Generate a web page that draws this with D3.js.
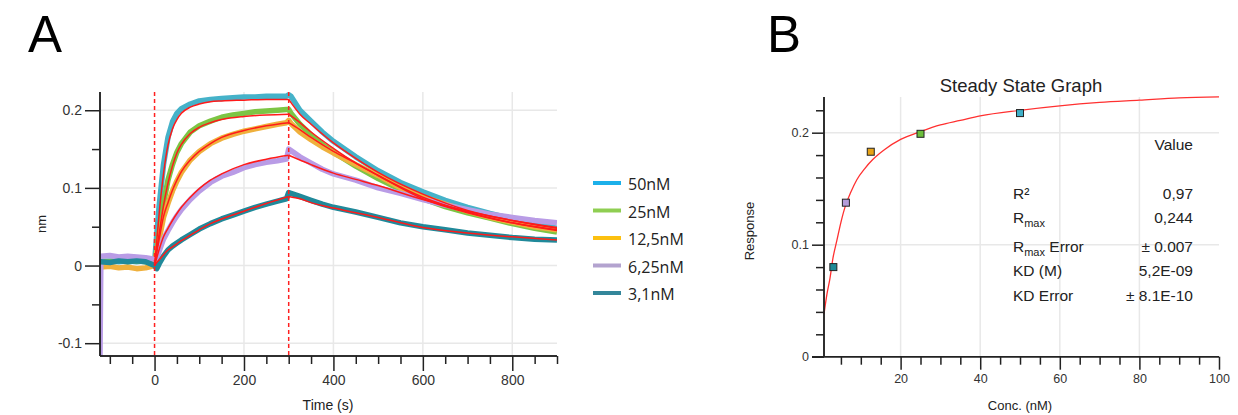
<!DOCTYPE html>
<html>
<head>
<meta charset="utf-8">
<script src="https://cdnjs.cloudflare.com/ajax/libs/d3/7.8.5/d3.min.js"></script>
<style>
body { margin: 0; background: #fff; }
svg text { font-family: "Liberation Sans", Arial, sans-serif; }
</style>
</head>
<body>
<svg id="figure"></svg>
<script>
// kinetics (panel A)
const seriesNames = ["50nM", "25nM", "12,5nM", "6,25nM", "3,1nM"];
const dataColors = ["#45b2c9", "#7cc544", "#efb03c", "#b99ce6", "#20899a"];
const legendColors = ["#1cb0ea", "#8fce52", "#fcc010", "#b3a3cf", "#33869a"];

const measTimes = [-122, -120, -100, -80, -60, -40, -20, 0, 5, 10, 20, 30, 40, 50, 60,
    80, 100, 125, 150, 175, 200, 225, 250, 275, 295, 300, 305, 325, 350, 375, 400,
    450, 500, 550, 600, 650, 700, 750, 800, 850, 900];
const meas50 = [0.005, 0.005, 0.006, 0.005, 0.006, 0.005, 0.006, 0.003, 0.04, 0.075, 0.13, 0.165, 0.185, 0.196, 0.202,
    0.208, 0.212, 0.214, 0.215, 0.216, 0.217, 0.217, 0.218, 0.218, 0.218, 0.22, 0.218, 0.2, 0.186, 0.172, 0.16,
    0.14, 0.122, 0.107, 0.095, 0.084, 0.075, 0.067, 0.06, 0.054, 0.048];
const meas25 = [0.006, 0.006, 0.005, 0.007, 0.005, 0.006, 0.005, 0.002, 0.02, 0.042, 0.08, 0.11, 0.13, 0.146, 0.157,
    0.172, 0.18, 0.186, 0.191, 0.194, 0.196, 0.198, 0.199, 0.2, 0.201, 0.201, 0.196, 0.182, 0.168, 0.156, 0.146,
    0.128, 0.112, 0.098, 0.086, 0.076, 0.068, 0.061, 0.054, 0.048, 0.043];
const meas125 = [-0.002, -0.002, -0.001, -0.003, -0.002, -0.004, -0.003, 0.0, 0.017, 0.033, 0.062, 0.08, 0.096, 0.109, 0.12,
    0.136, 0.147, 0.157, 0.164, 0.169, 0.173, 0.176, 0.179, 0.182, 0.184, 0.187, 0.183, 0.172, 0.162, 0.153, 0.145,
    0.13, 0.116, 0.1, 0.088, 0.079, 0.07, 0.062, 0.056, 0.05, 0.046];
const meas625 = [-0.1165, 0.012, 0.013, 0.011, 0.012, 0.011, 0.01, 0.008, 0.01, 0.018, 0.034, 0.045, 0.055, 0.064, 0.072,
    0.085, 0.096, 0.107, 0.115, 0.12, 0.126, 0.13, 0.133, 0.135, 0.137, 0.15, 0.148, 0.14, 0.132, 0.124, 0.118,
    0.11, 0.1, 0.093, 0.085, 0.078, 0.072, 0.066, 0.062, 0.058, 0.055];
const meas31 = [0.005, 0.005, 0.004, 0.006, 0.005, 0.006, 0.005, 0.0, -0.004, 0.002, 0.012, 0.02, 0.025, 0.029, 0.033,
    0.04, 0.047, 0.054, 0.06, 0.065, 0.07, 0.075, 0.079, 0.083, 0.086, 0.094, 0.093, 0.089, 0.084, 0.079, 0.075,
    0.069, 0.062, 0.055, 0.05, 0.046, 0.042, 0.039, 0.036, 0.034, 0.033];

const fitTimes = [0, 5, 10, 20, 30, 40, 50, 60, 80, 100, 125, 150, 200, 250, 300,
    325, 350, 400, 450, 500, 600, 700, 800, 900];
const fit50 = [0, 0.032, 0.065, 0.118, 0.155, 0.176, 0.188, 0.196, 0.204, 0.208, 0.211, 0.212, 0.213, 0.214, 0.214,
    0.195, 0.182, 0.158, 0.138, 0.12, 0.092, 0.071, 0.058, 0.048];
const fit25 = [0, 0.02, 0.04, 0.077, 0.106, 0.128, 0.145, 0.156, 0.17, 0.178, 0.184, 0.188, 0.192, 0.194, 0.195,
    0.184, 0.172, 0.151, 0.132, 0.116, 0.088, 0.069, 0.055, 0.045];
const fit125 = [0, 0.017, 0.033, 0.063, 0.081, 0.097, 0.11, 0.121, 0.136, 0.147, 0.157, 0.165, 0.174, 0.18, 0.184,
    0.175, 0.165, 0.147, 0.132, 0.116, 0.086, 0.068, 0.055, 0.046];
const fit625 = [0, 0.01, 0.02, 0.037, 0.048, 0.058, 0.067, 0.075, 0.088, 0.099, 0.11, 0.118, 0.13, 0.137, 0.142,
    0.136, 0.13, 0.119, 0.111, 0.103, 0.085, 0.07, 0.058, 0.049];
const fit31 = [0, 0.004, 0.007, 0.014, 0.02, 0.024, 0.028, 0.032, 0.039, 0.046, 0.054, 0.06, 0.07, 0.08, 0.089,
    0.086, 0.081, 0.074, 0.068, 0.062, 0.049, 0.042, 0.037, 0.033];
const injectionTimes = [0, 300];

// steady state (panel B)
const ssConc = [3.1, 6.25, 12.5, 25, 50];
const ssResponse = [0.080, 0.1375, 0.183, 0.199, 0.2175];
const ssColors = ["#1f8a96", "#b39ddb", "#e8a317", "#6cbf3c", "#3fb0c8"];
const ssFitConc = [0.75, 1.5, 2.25, 3, 4, 5, 6.25, 7.5, 9, 11, 13, 16, 20, 25, 30, 35, 40, 50, 60, 70, 80, 90, 100];
const ssFitResponse = [0.038, 0.056, 0.07, 0.088, 0.104, 0.12, 0.136, 0.147, 0.158, 0.168, 0.176, 0.185, 0.194,
    0.201, 0.207, 0.211, 0.215, 0.220, 0.224, 0.227, 0.229, 0.231, 0.232];
const tableValues = ["0,97", "0,244", "\u00b1 0.007", "5,2E-09", "\u00b1 8.1E-10"];

class Figure {
    constructor() {
        this.width = 1238;
        this.height = 415;
        this.svg = d3.select("#figure")
            .attr("width", this.width)
            .attr("height", this.height)
        ;
        this.drawKinetics();
        this.drawSteadyState();
    }

    drawKinetics() {
        const svg = this.svg;
        const x = d3.scaleLinear().domain([-122, 900]).range([100, 557]);
        const y = d3.scaleLinear().domain([-0.1165, 0.2235]).range([356, 92]);

        svg.append("text").attr("x", 28).attr("y", 52)
            .style("font-size", "51px").attr("fill", "#000").text("A");

        // grid
        const grid = svg.append("g").attr("stroke", "#e8e8e8").attr("stroke-width", 1.5);
        [-0.1, 0, 0.1, 0.2].forEach(v => grid.append("line")
            .attr("x1", 100).attr("x2", 557).attr("y1", y(v)).attr("y2", y(v)));
        [200, 400, 600, 800].forEach(t => grid.append("line")
            .attr("x1", x(t)).attr("x2", x(t)).attr("y1", 92).attr("y2", 356));

        svg.append("clipPath").attr("id", "clipA").append("rect")
            .attr("x", 100).attr("y", 88).attr("width", 457).attr("height", 268);

        const plot = svg.append("g").attr("clip-path", "url(#clipA)");
        const measured = [meas50, meas25, meas125, meas625, meas31];
        const fits = [fit50, fit25, fit125, fit625, fit31];

        const line = d3.line().x(d => x(d[0])).y(d => y(d[1]));
        measured.forEach((vals, i) => {
            plot.append("path")
                .datum(measTimes.map((t, k) => [t, vals[k]]))
                .attr("d", line)
                .attr("fill", "none")
                .attr("stroke", dataColors[i])
                .attr("stroke-width", 5.5)
                .attr("stroke-linejoin", "round");
        });

        const smooth = d3.line().x(d => x(d[0])).y(d => y(d[1])).curve(d3.curveMonotoneX);
        fits.forEach(vals => {
            const pts = fitTimes.map((t, k) => [t, vals[k]]);
            [pts.filter(p => p[0] <= 300), pts.filter(p => p[0] >= 300)].forEach(part => {
                plot.append("path")
                    .datum(part)
                    .attr("d", smooth)
                    .attr("fill", "none")
                    .attr("stroke", "#ff1a1a")
                    .attr("stroke-width", 1.5);
            });
        });

        injectionTimes.forEach(t => svg.append("line")
            .attr("x1", x(t)).attr("x2", x(t)).attr("y1", 92).attr("y2", 356)
            .attr("stroke", "#ff2020").attr("stroke-width", 1.5)
            .attr("stroke-dasharray", "4,3"));

        // axes
        const fmt = d => String(+d.toFixed(2));
        const yMinor = svg.append("g").attr("transform", "translate(100,0)")
            .call(d3.axisLeft(y).tickValues([-0.05, 0.05, 0.15]).tickSize(8).tickFormat(""));
        const yMajor = svg.append("g").attr("transform", "translate(100,0)")
            .call(d3.axisLeft(y).tickValues([-0.1, 0, 0.1, 0.2]).tickSize(15).tickPadding(3).tickFormat(fmt));
        const xMinor = svg.append("g").attr("transform", "translate(0,356)")
            .call(d3.axisBottom(x).tickValues(d3.range(-100, 901, 50).filter(t => t % 200 !== 0)).tickSize(8).tickFormat(""));
        const xMajor = svg.append("g").attr("transform", "translate(0,356)")
            .call(d3.axisBottom(x).tickValues([0, 200, 400, 600, 800]).tickSize(15).tickPadding(4).tickFormat(fmt));
        [yMinor, yMajor, xMinor, xMajor].forEach(g => {
            g.select(".domain").attr("stroke", "#222").attr("stroke-width", 1.5)
                .attr("d", g === yMinor || g === yMajor ? "M0,92V356" : "M100,0H557");
            g.selectAll(".tick line").attr("stroke", "#222").attr("stroke-width", 1.5);
            g.selectAll("text").attr("fill", "#333").style("font-size", "14px")
                .style("font-family", "'Liberation Sans', Arial, sans-serif");
        });

        svg.append("text").attr("x", 328).attr("y", 410).attr("text-anchor", "middle")
            .style("font-size", "14px").attr("fill", "#222").text("Time (s)");
        svg.append("text").attr("transform", "translate(46,224) rotate(-90)").attr("text-anchor", "middle")
            .style("font-size", "13px").attr("fill", "#222").text("nm");

        // legend
        const legend = svg.append("g");
        seriesNames.forEach((name, i) => {
            const ly = 184 + i * 27.5;
            legend.append("line").attr("x1", 593).attr("x2", 621).attr("y1", ly - 1).attr("y2", ly - 1)
                .attr("stroke", legendColors[i]).attr("stroke-width", 4);
            legend.append("text").attr("x", 628).attr("y", ly + 6)
                .style("font-family", "'Open Sans', sans-serif").style("font-size", "16px")
                .attr("fill", "#222").text(name);
        });
    }

    drawSteadyState() {
        const svg = this.svg;
        const x = d3.scaleLinear().domain([0.75, 100]).range([824, 1219]);
        const y = d3.scaleLinear().domain([0, 0.2307]).range([356.7, 98.3]);

        svg.append("text").attr("x", 767).attr("y", 52)
            .style("font-size", "51px").attr("fill", "#000").text("B");

        svg.append("text").attr("x", 1021).attr("y", 92).attr("text-anchor", "middle")
            .style("font-size", "18.5px").attr("fill", "#222").text("Steady State Graph");

        const grid = svg.append("g").attr("stroke", "#e8e8e8").attr("stroke-width", 1.5);
        [0.1, 0.2].forEach(v => grid.append("line")
            .attr("x1", 824).attr("x2", 1219).attr("y1", y(v)).attr("y2", y(v)));
        [20, 40, 60, 80].forEach(c => grid.append("line")
            .attr("x1", x(c)).attr("x2", x(c)).attr("y1", 97).attr("y2", 356.7));

        // parameter table
        const tbl = svg.append("g").style("font-family", "'Open Sans', sans-serif")
            .style("font-size", "15.5px").attr("fill", "#222");
        tbl.append("text").attr("x", 1193).attr("y", 150).attr("text-anchor", "end").text("Value");
        const rowsY = [199, 223, 252, 276, 301];
        const labels = tbl.selectAll(".lbl").data(rowsY).enter().append("text")
            .attr("class", "lbl").attr("x", 1013).attr("y", d => d);
        labels.each(function(d, i) {
            const t = d3.select(this);
            if (i === 0) t.text("R\u00b2");
            if (i === 1 || i === 2) {
                t.append("tspan").text("R");
                t.append("tspan").attr("dy", 4).style("font-size", "11px").text("max");
                if (i === 2) t.append("tspan").attr("dy", -4).text(" Error");
            }
            if (i === 3) t.text("KD (M)");
            if (i === 4) t.text("KD Error");
        });
        tbl.selectAll(".val").data(tableValues).enter().append("text")
            .attr("class", "val").attr("x", 1193).attr("y", (d, i) => rowsY[i])
            .attr("text-anchor", "end").text(d => d);

        const line = d3.line().x(d => x(d[0])).y(d => y(d[1])).curve(d3.curveMonotoneX);
        svg.append("path")
            .datum(ssFitConc.map((c, k) => [c, ssFitResponse[k]]))
            .attr("d", line)
            .attr("fill", "none")
            .attr("stroke", "#ff3030")
            .attr("stroke-width", 1.3);

        svg.selectAll(".pt").data(ssConc).enter().append("rect")
            .attr("class", "pt")
            .attr("x", (d, i) => x(d) - 3.5)
            .attr("y", (d, i) => y(ssResponse[i]) - 3.5)
            .attr("width", 7).attr("height", 7)
            .attr("fill", (d, i) => ssColors[i])
            .attr("stroke", "#222").attr("stroke-width", 1);

        const fmt = d => String(+d.toFixed(2));
        const yMinor = svg.append("g").attr("transform", "translate(824,0)")
            .call(d3.axisLeft(y).tickValues([0.02, 0.04, 0.06, 0.08, 0.12, 0.14, 0.16, 0.18, 0.22]).tickSize(8).tickFormat(""));
        const yMajor = svg.append("g").attr("transform", "translate(824,0)")
            .call(d3.axisLeft(y).tickValues([0, 0.1, 0.2]).tickSize(12).tickPadding(3).tickFormat(fmt));
        const xMinor = svg.append("g").attr("transform", "translate(0,356.7)")
            .call(d3.axisBottom(x).tickValues(d3.range(5, 101, 5).filter(c => c % 20 !== 0)).tickSize(8).tickFormat(""));
        const xMajor = svg.append("g").attr("transform", "translate(0,356.7)")
            .call(d3.axisBottom(x).tickValues([20, 40, 60, 80, 100]).tickSize(13).tickPadding(4).tickFormat(fmt));
        [yMinor, yMajor, xMinor, xMajor].forEach(g => {
            g.select(".domain").attr("stroke", "#222").attr("stroke-width", 1.5)
                .attr("d", g === yMinor || g === yMajor ? "M0,97V356.7" : "M812,0H1219");
            g.selectAll(".tick line").attr("stroke", "#222").attr("stroke-width", 1.5);
            g.selectAll("text").attr("fill", "#333").style("font-size", "12.5px")
                .style("font-family", "'Liberation Sans', Arial, sans-serif");
        });

        svg.append("text").attr("x", 1020).attr("y", 410).attr("text-anchor", "middle")
            .style("font-size", "13px").attr("fill", "#222").text("Conc. (nM)");
        svg.append("text").attr("transform", "translate(754,231) rotate(-90)").attr("text-anchor", "middle")
            .style("font-size", "13px").attr("fill", "#222").text("Response");
    }
}

new Figure();
</script>
</body>
</html>
